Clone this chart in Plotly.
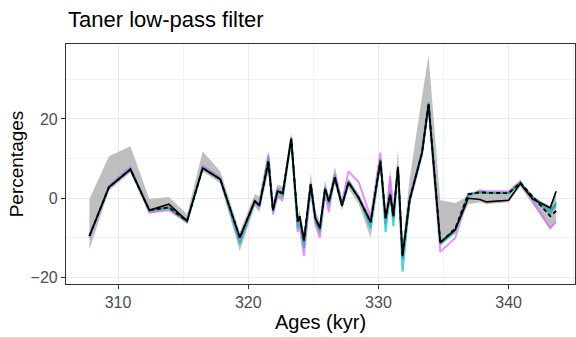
import plotly.graph_objects as go

ages = [307.8, 309.3, 310.95, 312.4, 313.9, 315.3, 316.5, 317.85, 319.35, 320.5,
        320.85, 321.55, 321.9, 322.25, 322.65, 323.3, 323.8, 323.95, 324.28, 324.8,
        325.15, 325.5, 325.9, 326.2, 326.65, 327.2, 327.7, 328.5, 329.4, 330.15,
        330.55, 330.9, 331.15, 331.5, 331.85, 332.4, 333.35, 333.85, 334.75, 335.9,
        336.9, 337.8, 338.3, 340.0, 340.9, 341.85, 343.2, 343.65]

black = [-9.5, 2.8, 7.3, -3.0, -1.5, -5.7, 7.6, 4.8, -9.9, -0.7,
         -1.8, 8.9, -3.0, 1.8, 1.3, 15.0, -5.8, -4.5, -10.6, 3.6,
         -4.9, -7.5, 2.4, -0.8, 5.3, -1.8, 4.0, 0.0, -6.0, 9.1,
         -5.0, 1.0, -4.5, 7.8, -14.5, -0.3, 11.5, 23.6, -11.2, -7.9,
         0.0, -0.3, -0.9, -0.5, 3.7, -0.2, -2.4, 1.8]

dashed = [-9.5, 2.8, 7.3, -3.0, -2.3, -5.7, 7.6, 4.8, -9.9, -0.7,
          -1.8, 9.6, -3.0, 1.8, 1.3, 15.0, -5.8, -4.5, -10.6, 3.6,
          -4.9, -7.5, 2.4, -0.8, 5.3, -1.8, 4.0, 0.0, -6.0, 9.5,
          -5.0, 1.0, -4.5, 7.8, -14.5, -0.3, 11.5, 24.0, -11.2, -7.6,
          1.0, 1.5, 1.4, 1.3, 3.9, 0.5, -4.5, -3.2]

pink = [-10.0, 3.2, 7.9, -3.6, -3.0, -6.0, 8.3, 5.2, -10.5, -0.5,
        -2.5, 11.0, -4.0, 0.5, 0.0, 15.5, -8.5, -7.0, -14.5, 2.5,
        -6.5, -10.0, 1.0, -3.5, 6.3, -1.0, 6.8, 4.0, -4.8, 11.5,
        -6.5, 5.5, -3.0, 7.5, -15.0, -1.0, 11.0, 23.0, -13.5, -10.0,
        0.5, 2.0, 1.8, 1.8, 4.3, -0.5, -7.5, -6.0]

cyan = [-9.6, 2.8, 7.2, -3.2, -2.5, -5.9, 7.7, 4.8, -11.5, -0.9,
        -2.0, 9.5, -3.2, 2.0, 0.5, 15.0, -7.5, -6.0, -12.5, 3.0,
        -5.5, -8.5, 2.0, -1.5, 5.3, -1.6, 4.3, 0.3, -7.5, 10.0,
        -8.5, 1.5, -7.0, 8.0, -18.5, -0.5, 11.5, 24.0, -11.5, -8.5,
        0.8, 1.5, 1.4, 1.3, 3.9, 0.0, -4.0, -1.0]

blue = [-9.4, 3.0, 7.5, -2.8, -2.2, -5.5, 8.0, 5.0, -10.8, -0.6,
        -1.5, 10.5, -2.5, 2.5, 1.5, 15.3, -6.5, -5.5, -11.5, 3.8,
        -4.5, -7.5, 3.0, -0.5, 5.8, -1.5, 4.5, 0.5, -5.5, 9.5,
        -5.5, 1.8, -5.0, 8.2, -15.5, 0.0, 12.0, 24.3, -11.0, -8.0,
        1.2, 1.6, 1.5, 1.4, 4.0, 0.3, -3.5, -2.0]

green = [-9.5, 2.8, 7.3, -3.0, -2.3, -5.7, 7.6, 4.8, -10.0, -0.7,
         -1.8, 9.3, -3.0, 1.5, 1.0, 15.0, -6.0, -5.0, -11.0, 3.4,
         -5.0, -7.8, 2.2, -1.0, 5.2, -2.0, 4.0, 0.0, -6.0, 9.3,
         -5.2, 1.0, -4.8, 7.8, -15.0, -0.3, 11.5, 23.8, -11.0, -7.8,
         1.0, 1.5, 1.4, 1.3, 3.9, 0.4, -3.0, -1.5]

grey_lo = [-12.9, 2.0, 6.5, -3.8, -2.8, -6.5, 6.8, 3.8, -13.3, -2.0,
           -3.5, 6.5, -4.5, 0.0, -1.0, 13.0, -8.0, -7.0, -13.0, 1.0,
           -6.5, -9.5, 0.5, -2.5, 3.5, -3.0, 2.5, -1.5, -10.0, 7.5,
           -6.5, -1.0, -6.0, 6.5, -15.5, -2.0, 10.5, 22.5, -12.0, -8.5,
           -1.5, -1.0, -1.5, -1.0, 3.0, -1.5, -8.0, -6.0]

grey_hi = [-0.2, 10.6, 13.1, -0.2, 0.3, -4.0, 11.8, 6.8, -8.5, 1.0,
           0.5, 12.0, -1.0, 3.5, 3.0, 16.5, -4.0, -3.0, -9.0, 6.4,
           -3.0, -6.0, 4.5, 0.5, 8.0, -0.5, 5.0, 0.5, -5.0, 10.0,
           -4.0, 7.5, -3.0, 12.3, -12.0, 5.0, 25.7, 36.0, -0.5, -1.2,
           0.5, 1.5, 1.5, 1.5, 4.2, 0.5, -2.0, 1.5]

x_ticks = [310, 320, 330, 340]
y_ticks = [-20, 0, 20]

FONT = "Liberation Sans, Arial, sans-serif"

fig = go.Figure()

# grey ribbon
fig.add_trace(go.Scatter(x=ages, y=grey_lo, mode="lines", line=dict(width=0),
                         showlegend=False, hoverinfo="skip"))
fig.add_trace(go.Scatter(x=ages, y=grey_hi, mode="lines", line=dict(width=0),
                         fill="tonexty", fillcolor="rgba(175,175,175,0.8)",
                         showlegend=False, hoverinfo="skip"))

for ys, col in [(pink, "rgba(231,107,243,0.75)"),
                (cyan, "rgba(0,191,196,0.7)"),
                (blue, "rgba(120,140,235,0.7)"),
                (green, "rgba(0,170,80,0.6)")]:
    fig.add_trace(go.Scatter(x=ages, y=ys, mode="lines",
                             line=dict(color=col, width=2),
                             showlegend=False))

fig.add_trace(go.Scatter(x=ages, y=dashed, mode="lines",
                         line=dict(color="black", width=1.8, dash="4px,3px"),
                         showlegend=False))
fig.add_trace(go.Scatter(x=ages, y=black, mode="lines",
                         line=dict(color="black", width=1.6),
                         showlegend=False))

axis_common = dict(
    showline=True, mirror=True, linecolor="#333333", linewidth=1.2,
    ticks="outside", ticklen=4, tickcolor="#333333", tickwidth=1,
    showgrid=True, gridcolor="#EBEBEB", gridwidth=1.2,
    zeroline=False,
    tickfont=dict(family=FONT, size=16, color="#4D4D4D"),
)

fig.update_layout(
    width=576, height=337,
    margin=dict(l=66, r=1, t=44, b=53),
    paper_bgcolor="white", plot_bgcolor="white",
    font=dict(family=FONT),
    xaxis=dict(range=[306.0, 345.1], tickvals=x_ticks,
               minor=dict(dtick=5, tick0=305, showgrid=True, gridcolor="#F2F2F2", gridwidth=0.8, ticks=""),
               title=dict(text="Ages (kyr)", font=dict(family=FONT, size=20, color="black"), standoff=4),
               **axis_common),
    yaxis=dict(range=[-21.6, 38.9], tickvals=y_ticks,
               minor=dict(dtick=10, tick0=-10, showgrid=True, gridcolor="#F2F2F2", gridwidth=0.8, ticks=""),
               title=dict(text="Percentages", font=dict(family=FONT, size=19, color="black"), standoff=1),
               **axis_common),
    annotations=[dict(text="Taner low-pass filter", xref="paper", yref="paper",
                      x=0, y=1 + (44 - 20) / 240, xanchor="left", yanchor="middle",
                      showarrow=False, font=dict(family=FONT, size=22, color="black"))],
)

fig.write_html("out.html")
